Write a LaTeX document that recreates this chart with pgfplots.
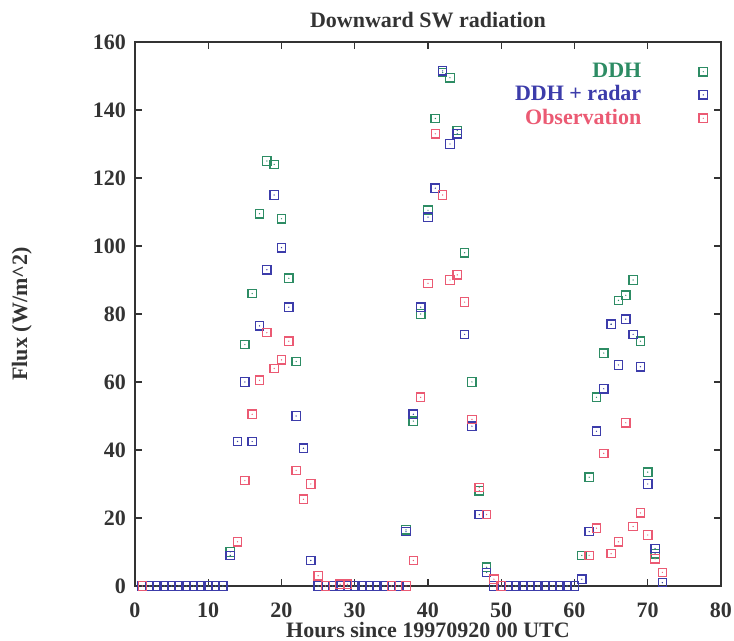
\documentclass[border=0pt]{standalone}
\usepackage{pgfplots}
\pgfplotsset{compat=1.18}
\usepackage{fontspec}
\setmainfont{Liberation Serif}
\definecolor{ddh}{RGB}{45,140,100}
\definecolor{rad}{RGB}{60,60,170}
\definecolor{obs}{RGB}{235,90,115}
\pgfdeclareplotmark{sqdot}{%
  \pgfpathrectangle{\pgfpoint{-\pgfplotmarksize}{-\pgfplotmarksize}}{\pgfpoint{2\pgfplotmarksize}{2\pgfplotmarksize}}%
  \pgfusepathqstroke
  \pgfpathcircle{\pgfpointorigin}{0.35pt}%
  \pgfusepathqfill
}
\begin{document}
\begin{tikzpicture}
\path[use as bounding box] (-67.5pt,-27.5pt) rectangle (299.5pt,293pt);
\begin{axis}[
  scale only axis, width=293pt, height=272pt,
  xmin=0, xmax=80, ymin=0, ymax=160,
  clip=false,
  xtick={0,10,...,80}, ytick={0,20,...,160},
  tick align=inside, major tick length=3.5pt,
  axis line style={draw=black!80, line width=0.6pt},
  every tick/.style={black!80, line width=0.6pt},
  /pgf/number format/assume math mode=true,
  ticklabel style={font=\fontsize{11}{13}\selectfont\bfseries, text=black!80},
  xticklabel style={yshift=-5pt},
  yticklabel style={xshift=-1pt},
  title={Downward SW radiation},
  every axis title/.style={at={(axis description cs:0.5,1.040)}, anchor=center, font=\fontsize{11}{13}\selectfont\bfseries, text=black!80},
  xlabel={Hours since 19970920 00 UTC},
  ylabel={Flux (W/m\textasciicircum 2)},
  every axis x label/.style={at={(axis description cs:0.5,-0.0805)}, anchor=center, font=\fontsize{11}{13}\selectfont\bfseries, text=black!80},
  every axis y label/.style={at={(axis description cs:-0.193,0.5)}, rotate=90, anchor=center, font=\fontsize{11}{13}\selectfont\bfseries, text=black!80},
  legend plot pos=right,
  legend cell align=right,
  legend image code/.code={\path[draw=none, fill=none] (0pt,0pt) -- (31pt,0pt); \draw[#1, only marks] plot coordinates {(29pt,0pt)};},
  legend style={draw=none, fill=none, at={(axis description cs:0.981,0.973)}, anchor=north east,
    font=\fontsize{11}{13}\selectfont\bfseries, row sep=-1.4pt, inner sep=1pt},
  mark size=2.1pt,
]
\addplot[only marks, mark=sqdot, color=ddh, mark options={line width=0.65pt}] table {
x y
1 0
2 0
3 0
4 0
5 0
6 0
7 0
8 0
9 0
10 0
11 0
12 0
13 10
14 42.5
15 71
16 86
17 109.5
18 125
19 124
20 108
21 90.5
22 66
23 40.5
24 7.5
25 0
26 0
27 0
28 0
29 0
30 0
31 0
32 0
33 0
34 0
35 0
36 0
37 16.5
38 48.5
39 80
40 110.5
41 137.5
42 151
43 149.5
44 134
45 98
46 60
47 28
48 5.5
49 0
50 0
51 0
52 0
53 0
54 0
55 0
56 0
57 0
58 0
59 0
60 0
61 9
62 32
63 55.5
64 68.5
65 77
66 84
67 85.5
68 90
69 72
70 33.5
71 9.5
72 1
};
\addlegendentry{\textcolor{ddh}{DDH}}
\addplot[only marks, mark=sqdot, color=rad, mark options={line width=0.65pt}] table {
x y
1 0
2 0
3 0
4 0
5 0
6 0
7 0
8 0
9 0
10 0
11 0
12 0
13 9
14 42.5
15 60
16 42.5
17 76.5
18 93
19 115
20 99.5
21 82
22 50
23 40.5
24 7.5
25 0
26 0
27 0
28 0
29 0
30 0
31 0
32 0
33 0
34 0
35 0
36 0
37 16
38 50.5
39 82
40 108.5
41 117
42 151.5
43 130
44 133
45 74
46 47
47 21
48 4
49 0
50 0
51 0
52 0
53 0
54 0
55 0
56 0
57 0
58 0
59 0
60 0
61 2
62 16
63 45.5
64 58
65 77
66 65
67 78.5
68 74
69 64.5
70 30
71 11
72 1
};
\addlegendentry{\textcolor{rad}{DDH + radar}}
\addplot[only marks, mark=sqdot, color=obs, mark options={line width=0.6pt}] table {
x y
1 0
14 13
15 31
16 50.5
17 60.5
18 74.5
19 64
20 66.5
21 72
22 34
23 25.5
24 30
25 3
26 0
28 0.5
29 0.5
35 0
37 0
38 7.5
39 55.5
40 89
41 133
42 115
43 90
44 91.5
45 83.5
46 49
47 29
48 21
49 2
50 0
62 9
63 17
64 39
65 9.5
66 13
67 48
68 17.5
69 21.5
70 15
71 8
72 4
};
\addlegendentry{\textcolor{obs}{Observation}}
\end{axis}
\end{tikzpicture}
\end{document}
